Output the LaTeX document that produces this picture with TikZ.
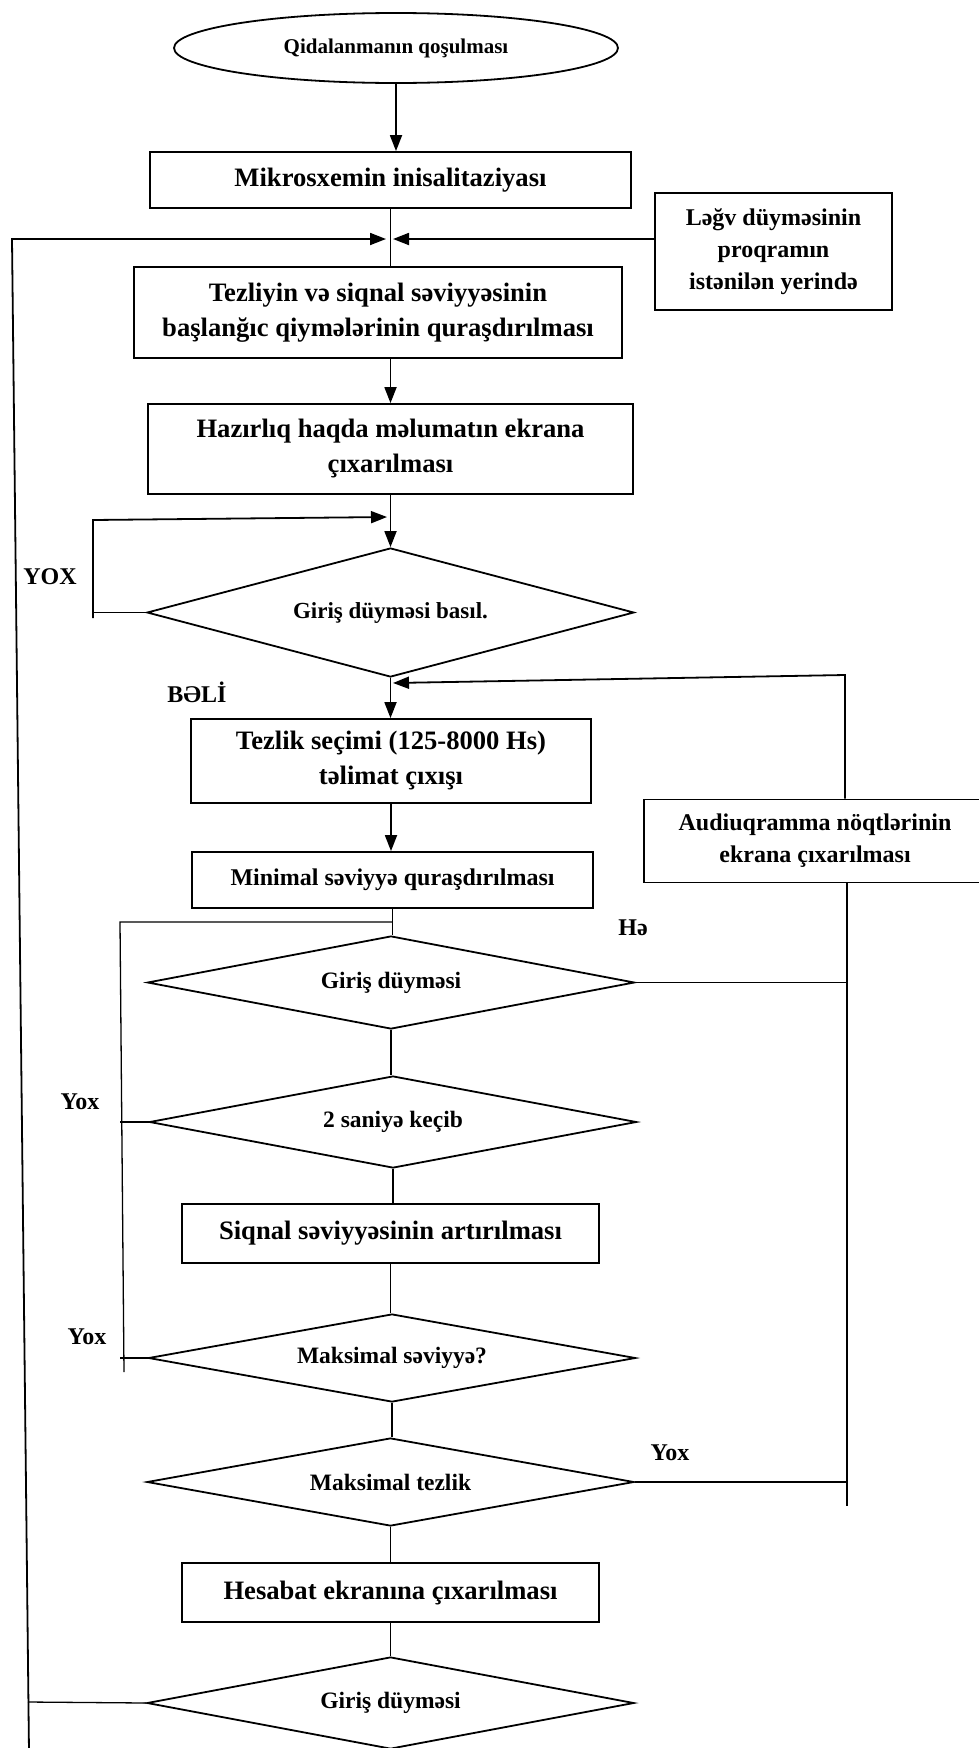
\documentclass[tikz,border=0pt]{standalone}
\usepackage{fontspec}
\setmainfont{Liberation Serif}
\usetikzlibrary{arrows.meta,shapes.geometric}

\begin{document}
\begin{tikzpicture}[x=1pt, y=-1pt,
    >={Triangle[length=16pt,width=12pt]},
    term/.style={ellipse, draw, line width=1.8pt, inner sep=0pt, minimum width=444pt, minimum height=70pt, font=\bfseries\fontsize{21}{25}\selectfont},
    proc/.style={rectangle, draw, line width=1.8pt, inner sep=0pt, align=center, font=\bfseries\fontsize{26.6}{35}\selectfont},
    procs/.style={proc, font=\bfseries\fontsize{24}{32}\selectfont},
    decide/.style={diamond, draw, line width=1.8pt, inner sep=0pt, aspect=6, minimum width=487pt, font=\bfseries\fontsize{23.5}{28}\selectfont},
    lbl/.style={font=\bfseries\fontsize{24}{28}\selectfont},
    conn/.style={line width=1.3pt},
    flow/.style={->, line width=1.8pt}]
\useasboundingbox (0,0) rectangle (979,1748);

% 开始与初始化
\node[term] (start) at (396,48) {Qidalanmanın qoşulması};
\node[proc, minimum width=481pt, minimum height=56pt] (init) at (390.5,180) {Mikrosxemin inisalitaziyası};
\node[procs, minimum width=237pt, minimum height=117pt] (cancel) at (773.5,251.5) {Ləğv düyməsinin\\proqramın\\istənilən yerində};
\node[proc, minimum width=488pt, minimum height=91pt] (initval) at (378,312.5) {Tezliyin və siqnal səviyyəsinin\\başlanğıc qiymələrinin quraşdırılması};
\node[proc, minimum width=485pt, minimum height=90pt] (ready) at (390.5,449) {Hazırlıq haqda məlumatın ekrana\\çıxarılması};
\node[decide, minimum height=129pt, font=\bfseries\fontsize{23}{28}\selectfont] (dec1) at (390.5,612.5) {Giriş düyməsi basıl.};

% 频率与电平
\node[proc, minimum width=400pt, minimum height=84pt] (freq) at (391,761) {Tezlik seçimi (125-8000 Hs)\\təlimat çıxışı};
\node[procs, minimum width=401pt, minimum height=56pt] (minlvl) at (392.5,880) {Minimal səviyyə quraşdırılması};
\node[procs, minimum width=342pt, minimum height=83pt] (audio) at (815,841) {Audiuqramma nöqtlərinin\\ekrana çıxarılması};
\node[decide, minimum height=93pt] (dec2) at (391,982.5) {Giriş düyməsi};
\node[decide, minimum height=92pt] (dec3) at (393,1122) {2 saniyə keçib};
\node[proc, minimum width=417pt, minimum height=59pt] (sig) at (390.5,1233.5) {Siqnal səviyyəsinin artırılması};
\node[decide, minimum height=88pt] (dec4) at (392,1358) {Maksimal səviyyə?};
\node[decide, minimum height=88pt] (dec5) at (390.5,1482) {Maksimal tezlik};
\node[proc, minimum width=417pt, minimum height=59pt] (report) at (390.5,1592.5) {Hesabat ekranına çıxarılması};
\node[decide, minimum height=92pt] (dec6) at (390.5,1703) {Giriş düyməsi};

% 回路的拐点
\coordinate (mergeL) at (386,239);
\coordinate (mergeR) at (393,239);
\coordinate (lt) at (12,239);
\coordinate (lb) at (29,1752);
\coordinate (lj) at (28,1702);
\coordinate (yb) at (93,618);
\coordinate (yt) at (93,520);
\coordinate (ytip) at (387,517);
\coordinate (rt) at (845,675);
\coordinate (rtip) at (393,683);
\coordinate (rb) at (847,1506);
\coordinate (lpt) at (120,922);
\coordinate (lpj) at (392,922);
\coordinate (lpb) at (124,1372);

% 主流程连接
\draw[flow] (start.south) -- (start.south |- init.north);
\draw[conn] (init.south) -- (init.south |- initval.north);
\draw[flow] (ready.north |- initval.south) -- (ready.north);
\draw[flow] (ready.south) -- (dec1.north);
\draw[flow] (dec1.south) -- (dec1.south |- freq.north);
\draw[flow] (freq.south) -- (freq.south |- minlvl.north);
\foreach \a/\b in {minlvl/dec2, dec2/dec3, dec3/sig, sig/dec4, dec4/dec5, dec5/report, report/dec6}
    \draw[conn] (\a.south) -- (\a.south |- \b.north);

% 左侧长回路与取消按钮
\draw[conn] (dec6.west) -- (lj);
\draw[flow] (lb) -- (lt) -- (mergeL);
\draw[flow] (cancel.west |- mergeR) -- (mergeR);

% YOX 回路
\draw[conn] (dec1.west) -- (dec1.west -| yb);
\draw[flow] (yb) -- (yt) -- (ytip);

% 右侧回路
\draw[flow] (audio.north -| rt) -- (rt) -- (rtip);
\draw[conn] (audio.south -| rb) -- (rb);
\draw[conn] (dec2.east) -- (dec2.east -| rb);
\draw[conn] (dec5.east) -- (dec5.east -| rb);

% 左侧内回路
\draw[conn] (lpb) -- (lpt) -- (lpj);
\draw[conn] (dec3.west) -- (dec3.west -| lpt);
\draw[conn] (dec4.west) -- (dec4.west -| lpt);

% 标签
\node[lbl] (yox1) at (50,577) {YOX};
\node[lbl] (beli) at (197,692) {BƏLİ};
\node[lbl] (he) at (633,928) {Hə};
\node[lbl] (yox2) at (80,1102) {Yox};
\node[lbl] (yox3) at (87,1337) {Yox};
\node[lbl] (yox4) at (670,1453) {Yox};
\end{tikzpicture}
\end{document}
